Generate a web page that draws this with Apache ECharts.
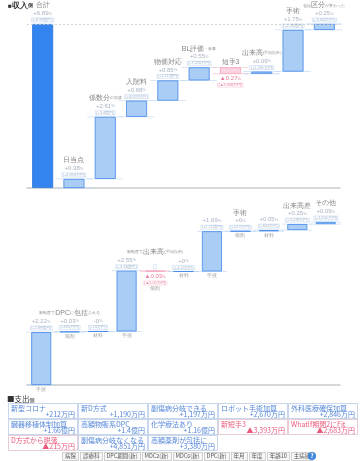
<!DOCTYPE html>
<html>
<head>
<meta charset="utf-8">
<script src="https://cdn.jsdelivr.net/npm/echarts@6/dist/echarts.min.js"></script>
<style>
  body { margin: 0; width: 360px; height: 461px; overflow: hidden; background: #fff; font-family: "Noto Sans CJK JP", sans-serif; }
  #chart { position: absolute; left: 0; top: 0; width: 360px; height: 461px; }
  .hd { position: absolute; left: 7px; top: 394px; font-size: 7.5px; color: #333; line-height: 9px; }
  .hd small { font-size: 5px; }
  #cells { position: absolute; left: 8px; top: 403px; display: grid; grid-template-columns: repeat(5, 70px); grid-auto-rows: 16px; }
  .cell { box-sizing: border-box; border: 1px solid #c9d7ec; position: relative; color: #5587d8; font-size: 7px; line-height: 7px; white-space: nowrap; }
  .cell .n { position: absolute; left: 2px; top: 1px; }
  .cell .v { position: absolute; right: 2px; bottom: 0px; }
  .cell.neg { color: #ea5a7c; border-color: #e9cdd6; }
  #btns { position: absolute; left: 62px; top: 452px; display: flex; gap: 1px; }
  .btn { box-sizing: border-box; height: 9px; border: 1px solid #cfcfcf; background: #f7f7f7; color: #555; font-size: 5.5px; line-height: 7px; padding: 0 2px; white-space: nowrap; }
  .help { position: absolute; left: 308px; top: 452px; width: 8px; height: 8px; border-radius: 50%; background: #3d86d9; color: #fff; font-size: 6px; line-height: 8px; text-align: center; font-weight: bold; }
</style>
</head>
<body>
<div id="chart"></div>
<div class="hd">■支出<small>側</small></div>
<div id="cells"></div>
<div id="btns"></div>
<div class="help">?</div>
<script>
// 収入側
const topCats = ['合計', '日当点', '係数分', '入院料', '物価対応', 'BL評価', '短手3', '出来高', '手術', '包括区分'];
const topNameSeg = [
  [['合計', 1]], [['日当点', 1]], [['係数分', 1], ['の加算', 0]], [['入院料', 1]], [['物価対応', 1]],
  [['BL評価', 1], ['・食事', 0]], [['短手3', 1]], [['出来高', 1], ['(手術以外)', 0]], [['手術', 1]],
  [['包括', 0], ['区分', 1], ['が変わった', 0]]
];
const topDelta = [6.89, 0.38, 2.61, 0.68, 0.85, 0.55, -0.27, 0.09, 1.75, 0.25];
const topPct = ['+6.89', '+0.38', '+2.61', '+0.68', '+0.85', '+0.55', '▲0.27', '+0.09', '+1.75', '+0.25'];
const topMoney = ['+8.99億円', '+4,894万円', '+3.4億円', '+8,929万円', '+1.11億円', '+7,226万円', '▲3,508万円', '+1,169万円', '+2.28億円', '+3,304万円'];

// 新制度の内訳
const botCats = ['手技', '薬剤', '材料', '手技', '薬剤', '材料', '手技', '薬剤', '材料', '出来高差', 'その他'];
const botUnder = ['手技', '薬剤', '材料', '手技', '薬剤', '材料', '手技', '薬剤', '材料', '', ''];
const botNameSeg = [
  [], [['新制度で', 0], ['DPC', 1], ['に', 0], ['包括', 1], ['される', 0]], [],
  [], [['新制度で', 0], ['出来高', 1], ['(手術以外)', 0]], [],
  [], [['手術', 1]], [], [['出来高差', 1]], [['その他', 1]]
];
const botDelta = [2.22, 0.03, 0, 2.55, -0.03, 0, 1.69, 0, 0.05, 0.25, 0.09];
const botPct = ['+2.22', '+0.03', '-0', '+2.55', '▲0.03', '+0', '+1.69', '+0', '+0.05', '+0.25', '+0.09'];
const botMoney = ['+2.89億円', '+335万円', '-1.6万円', '+3.33億円', '▲5.05万円', '+4.12万円', '+2.21億円', '+52.9万円', '+603万円', '+3,228万円', '+1,200万円'];

// 支出側
const costName = ['新型コロナ', '新D方式', '副傷病分岐できる', 'ロボット手術加算', '外科医療確保加算',
  '臓器移植体制加算', '高額物販系DPC', '化学療法あり', '新短手3', 'WhatIf期間2にFit',
  'D方式から脱落', '副傷病分岐なくなる', '高額薬剤が包括に'];
const costValue = ['+212万円', '+1,190万円', '+1,197万円', '+2,670万円', '+2,846万円',
  '+1.66億円', '+1.4億円', '+1.16億円', '▲3,393万円', '▲2,683万円',
  '▲215万円', '+4,851万円', '+3,380万円'];
const buttons = ['病院', '診療科', 'DPC期間(新)', 'MDC2(新)', 'MDC6(新)', 'DPC(新)', '年月', '年度', '年齢10', '主病棟'];

// 表とボタン
document.getElementById('cells').innerHTML = costName.map((n, i) => {
  const v = costValue[i];
  return `<div class="cell${v[0] === '▲' ? ' neg' : ''}"><span class="n">${n}</span><span class="v">${v}</span></div>`;
}).join('');
document.getElementById('btns').innerHTML = buttons.map(b => `<div class="btn">${b}</div>`).join('');

// ウォーターフォールの範囲
function ranges (delta, firstTotal) {
  let acc = 0;
  const lo = [], hi = [];
  delta.forEach((d, i) => {
    if (i === 0 && firstTotal) { lo.push(0); hi.push(d); return; }
    const s = acc, e = acc + d;
    acc = e;
    lo.push(Math.min(s, e)); hi.push(Math.max(s, e));
  });
  return { lo, hi };
}
const T = ranges(topDelta, true);
const B = ranges(botDelta, false);

const nameText = segs => segs.map(([t, big]) => `{${big ? 'nb' : 'ns'}|${t}}`).join('');
const rich = {
  nb: { fontSize: 7, color: '#666', lineHeight: 9 },
  ns: { fontSize: 4, color: '#777', lineHeight: 9 },
  v: { fontSize: 6, color: '#8d9bb2', lineHeight: 7 },
  vp: { fontSize: 4, color: '#8d9bb2', lineHeight: 7 },
  vn: { fontSize: 6, color: '#e5587c', lineHeight: 7 },
  vnp: { fontSize: 4, color: '#e5587c', lineHeight: 7 },
  m: { fontSize: 3.8, color: '#8fa3bf', borderColor: '#abc9ee', borderWidth: 0.5, padding: [0, 1], lineHeight: 6 },
  mn: { fontSize: 3.8, color: '#e5587c', borderColor: '#f3bccc', borderWidth: 0.5, padding: [0, 1], lineHeight: 6 },
  c: { fontSize: 4.5, color: '#888', lineHeight: 6 }
};

const barColor = (d, i, total) => {
  if (total && i === 0) return { color: '#3384ee', borderColor: '#2a76de', borderWidth: 0.8 };
  if (d < 0) return { color: '#fcd5e1', borderColor: '#f2a3bc', borderWidth: 0.8 };
  return { color: '#aacdf6', borderColor: '#4288e8', borderWidth: 0.8 };
};

function panel (idx, delta, R, pct, money, nameSeg, under, barW, linkW, total) {
  const n = delta.length;
  const links = [];
  for (let i = 0; i < n; i++) {
    if (total && i === 0) continue;
    const col = delta[i] < 0 ? '#f6c3d3' : '#bcd6f5';
    links.push({ value: [i, R.lo[i]], itemStyle: { color: col } });
    links.push({ value: [i, R.hi[i]], itemStyle: { color: col } });
  }
  const ax = { xAxisIndex: idx, yAxisIndex: idx };
  return [
    Object.assign({ type: 'bar', stack: 's' + idx, barWidth: barW, silent: true,
      itemStyle: { color: 'transparent' }, data: R.lo }, ax),
    Object.assign({ type: 'bar', stack: 's' + idx, barWidth: barW, z: 3,
      data: delta.map((d, i) => ({ value: R.hi[i] - R.lo[i], itemStyle: barColor(d, i, total) })),
      markLine: total ? { silent: true, symbol: 'none', label: { show: false },
        lineStyle: { type: [2, 2], color: '#c9c9c9', width: 0.8 }, data: [{ yAxis: delta[0] }] } : undefined }, ax),
    Object.assign({ type: 'scatter', symbol: 'rect', symbolSize: [linkW, 0.8], z: 1, silent: true, data: links }, ax),
    Object.assign({ type: 'scatter', symbolSize: 0, z: 5, silent: true,
      data: R.hi.map((v, i) => [i, v]),
      label: { show: true, position: 'top', distance: 1, align: 'center', rich,
        formatter: p => {
          const i = p.dataIndex, nm = nameText(nameSeg[i]);
          if (delta[i] < 0) return total ? nm : nm + '\n{v| }\n{m| }';
          const body = `{v|${pct[i]}}{vp|%}\n{m|(${money[i]})}`;
          return nm ? nm + '\n' + body : body;
        } } }, ax),
    Object.assign({ type: 'scatter', symbolSize: 0, z: 5, silent: true,
      data: R.lo.map((v, i) => [i, v]),
      label: { show: true, position: 'bottom', distance: 1.5, align: 'center', rich,
        formatter: p => {
          const i = p.dataIndex, lines = [];
          if (delta[i] < 0) { lines.push(`{vn|${pct[i]}}{vnp|%}`); lines.push(`{mn|(${money[i]})}`); }
          if (under && under[i]) lines.push(`{c|${under[i]}}`);
          return lines.join('\n');
        } } }, ax)
  ];
}

const axisBase = {
  type: 'category', axisTick: { show: false }, axisLabel: { show: false },
  axisLine: { lineStyle: { color: '#cbcbcb', width: 1.5 } }
};

const chart = echarts.init(document.getElementById('chart'), null, { renderer: 'canvas' });
chart.setOption({
  animation: false,
  title: { left: 6, top: 0, padding: [2, 2], text: '{sq|■}{a|収入}{b|側}',
    textStyle: { rich: { sq: { fontSize: 6.5, color: '#333' }, a: { fontSize: 7.5, color: '#333' }, b: { fontSize: 5, color: '#333' } } } },
  grid: [
    { left: 27, right: 20, top: 24, height: 164 },
    { left: 27, right: 20, top: 221, height: 164 }
  ],
  xAxis: [
    Object.assign({ gridIndex: 0, data: topCats.map((c, i) => i + c) }, axisBase),
    Object.assign({ gridIndex: 1, data: botCats.map((c, i) => i + c) }, axisBase)
  ],
  yAxis: [
    { gridIndex: 0, type: 'value', min: 0, max: 6.89, show: false },
    { gridIndex: 1, type: 'value', min: 0, max: 6.89, show: false }
  ],
  series: [
    ...panel(0, topDelta, T, topPct, topMoney, topNameSeg, null, 21, 36, true),
    ...panel(1, botDelta, B, botPct, botMoney, botNameSeg, botUnder, 20, 30, false)
  ]
});
</script>
</body>
</html>
